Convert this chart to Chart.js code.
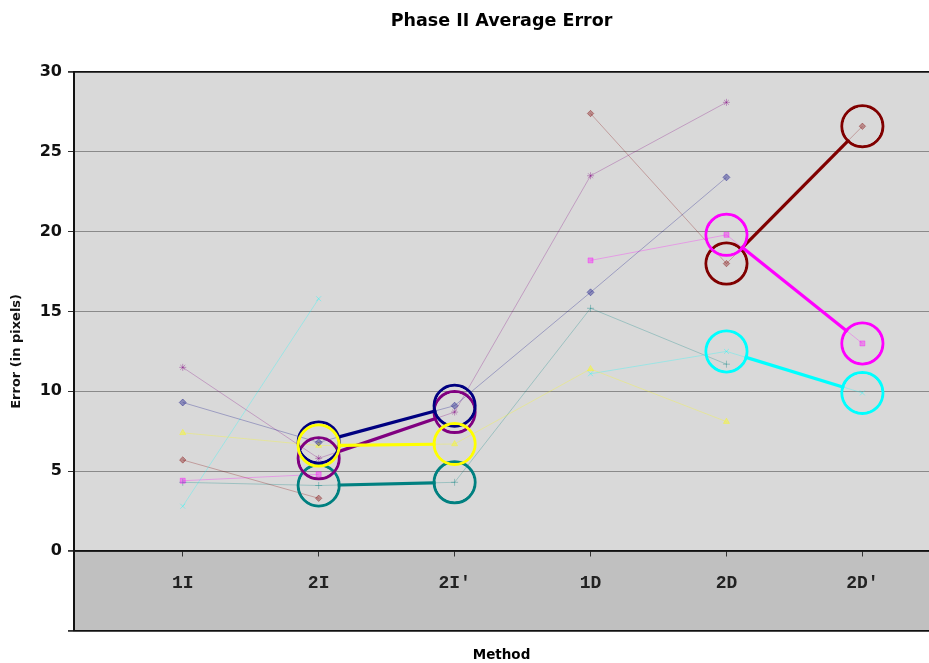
<!DOCTYPE html>
<html>
<head>
<meta charset="utf-8">
<title>Phase II Average Error</title>
<script src="https://cdn.jsdelivr.net/npm/chart.js"></script>
<style>
  html, body { margin: 0; padding: 0; background: #ffffff; overflow: hidden; }
  canvas { display: block; }
</style>
</head>
<body>
<canvas id="chart" width="929" height="663"></canvas>
<script>
// Methods along the horizontal axis (tick labels)
const categories = ['1I', '2I', '2I\u2032', '1D', '2D', '2D\u2032'];

// Average error per method, one array per series (null = not measured)
const navySeries    = [9.3, 6.8, 9.1, 16.2, 23.4, null];
const magentaSeries = [4.4, 4.8, null, 18.2, 19.8, 13.0];
const yellowSeries  = [7.4, 6.6, 6.7, 11.4, 8.1, null];
const cyanSeries    = [2.8, 15.8, null, 11.1, 12.5, 9.9];
const purpleSeries  = [11.5, 5.8, 8.7, 23.5, 28.1, null];
const darkRedSeries = [5.7, 3.3, null, 27.4, 18.0, 26.6];
const tealSeries    = [4.3, 4.1, 4.3, 15.2, 11.7, null];

// Pairs of methods that are compared for each series
const imagePair = [1, 2];   // 2I -> 2I'
const depthPair = [4, 5];   // 2D -> 2D'

const series = [
  { values: navySeries,    rgb: [0, 0, 128],     marker: 'rectRot',  size: 3.5, pair: imagePair },
  { values: magentaSeries, rgb: [255, 0, 255],   marker: 'rect',     size: 3.5, pair: depthPair },
  { values: yellowSeries,  rgb: [255, 255, 0],   marker: 'triangle', size: 3.5, pair: imagePair },
  { values: cyanSeries,    rgb: [0, 255, 255],   marker: 'crossRot', size: 3.5, pair: depthPair },
  { values: purpleSeries,  rgb: [128, 0, 128],   marker: 'star',     size: 3.5, pair: imagePair },
  { values: darkRedSeries, rgb: [128, 0, 0],     marker: 'rectRot',  size: 3.2, pair: depthPair },
  { values: tealSeries,    rgb: [0, 128, 128],   marker: 'cross',    size: 3.5, pair: imagePair }
];

const rgba = (c, a) => `rgba(${c[0]},${c[1]},${c[2]},${a})`;
const toPoints = vals => vals.map((v, i) => ({ x: i, y: v }));

// Bold comparison segments with rings around both ends (drawn on top)
const ringOrder = [2, 0, 4, 6, 1, 5, 3];
const ringSets = ringOrder.map(k => {
  const s = series[k];
  return {
    ring: true,
    data: s.pair.map(i => ({ x: i, y: s.values[i] })),
    borderColor: rgba(s.rgb, 1),
    borderWidth: 3.2,
    pointStyle: 'circle',
    pointRadius: 20.5,
    pointBorderWidth: 3,
    pointBorderColor: rgba(s.rgb, 1),
    pointBackgroundColor: 'rgba(0,0,0,0)',
    tension: 0
  };
});

// Faint full series underneath
const faintSets = series.map(s => ({
  data: toPoints(s.values),
  borderColor: rgba(s.rgb, 0.28),
  borderWidth: 1,
  pointStyle: s.marker,
  pointRadius: s.size,
  pointBorderWidth: 1,
  pointBorderColor: rgba(s.rgb, 0.36),
  pointBackgroundColor: rgba(s.rgb, 0.36),
  spanGaps: false,
  tension: 0
}));

// Plot fill: light grey above zero, darker band below it
const plotBackground = {
  id: 'plotBackground',
  beforeDraw(chart) {
    const { ctx, chartArea: a, scales: { y } } = chart;
    const zero = y.getPixelForValue(0);
    ctx.save();
    ctx.fillStyle = '#d9d9d9';
    ctx.fillRect(a.left, a.top, a.right - a.left, zero - a.top);
    ctx.fillStyle = '#c0c0c0';
    ctx.fillRect(a.left, zero, a.right - a.left, a.bottom - zero);
    ctx.restore();
  }
};

// Keep the bold segments from running through the inside of their rings
const ringClip = {
  id: 'ringClip',
  beforeDatasetDraw(chart, args) {
    const ds = chart.data.datasets[args.index];
    if (!ds.ring) return;
    const ctx = chart.ctx;
    const r = ds.pointRadius - ds.pointBorderWidth / 2;
    ctx.save();
    ctx.beginPath();
    ctx.rect(0, 0, chart.width, chart.height);
    args.meta.data.forEach(p => {
      ctx.moveTo(p.x + r, p.y);
      ctx.arc(p.x, p.y, r, 0, Math.PI * 2);
    });
    ctx.clip('evenodd');
  },
  afterDatasetDraw(chart, args) {
    if (chart.data.datasets[args.index].ring) chart.ctx.restore();
  }
};

const edgeValues = [-5, 0, 30];

new Chart(document.getElementById('chart'), {
  type: 'line',
  data: { datasets: ringSets.concat(faintSets) },
  plugins: [plotBackground, ringClip],
  options: {
    responsive: false,
    animation: false,
    events: [],
    layout: { padding: 0, autoPadding: false },
    plugins: {
      legend: { display: false },
      tooltip: { enabled: false },
      title: {
        display: true,
        text: 'Phase II Average Error',
        fullSize: false,
        color: '#000',
        font: { family: 'DejaVu Sans', weight: 'bold', size: 17.5 },
        padding: { top: 10.5, bottom: 40.5 }
      },
      subtitle: {
        display: true,
        text: 'Method',
        position: 'bottom',
        fullSize: false,
        color: '#000',
        font: { family: 'DejaVu Sans', weight: 'bold', size: 13.5 },
        padding: { top: 17, bottom: -1 }
      }
    },
    scales: {
      x: {
        type: 'linear',
        position: { y: 0 },
        min: -0.8,
        max: 5.49,
        afterFit: s => { s.height = 0; },
        ticks: {
          stepSize: 1,
          includeBounds: false,
          autoSkip: false,
          maxRotation: 0,
          padding: 17,
          color: '#222',
          font: { family: 'Liberation Mono', weight: 'bold', size: 18 },
          callback: v => (categories[v] !== undefined ? categories[v] : '')
        },
        grid: { drawOnChartArea: false, drawTicks: true, tickLength: 5, color: '#333' },
        border: { display: true, color: '#111', width: 1.5 }
      },
      y: {
        min: -5,
        max: 30,
        afterFit: s => { s.width = 74; },
        ticks: {
          stepSize: 5,
          padding: 6,
          color: '#111',
          font: { family: 'DejaVu Sans', weight: 'bold', size: 16 },
          callback: v => (v < 0 ? '' : v)
        },
        grid: {
          color: c => (edgeValues.includes(c.tick.value) ? '#111' : '#8a8a8a'),
          lineWidth: c => (edgeValues.includes(c.tick.value) ? 1.8 : 1),
          tickColor: '#333',
          tickLength: 6,
          drawTicks: true
        },
        border: { display: true, color: '#111', width: 2 },
        title: {
          display: true,
          text: 'Error (in pixels)',
          color: '#111',
          font: { family: 'DejaVu Sans', weight: 'bold', size: 13 },
          padding: { top: 9, bottom: 0 }
        }
      }
    }
  }
});
</script>
</body>
</html>
